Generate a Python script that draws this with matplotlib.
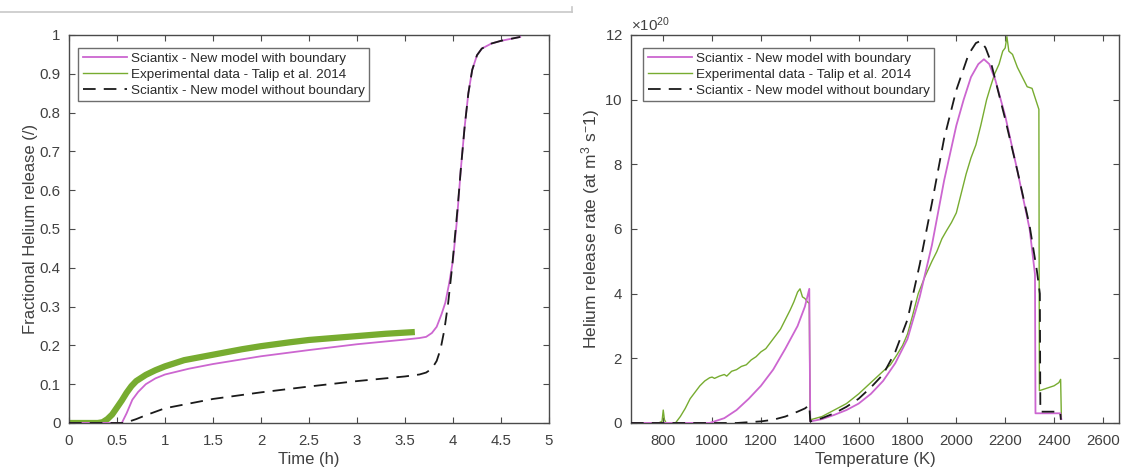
import matplotlib
matplotlib.use("Agg")
import matplotlib.pyplot as plt
from matplotlib.ticker import FormatStrFormatter, MultipleLocator, ScalarFormatter
from matplotlib.lines import Line2D

plt.rcParams['font.family'] = ['Liberation Sans', 'DejaVu Sans']
plt.rcParams['mathtext.default'] = 'regular'

# ---------------- Left panel data: fractional release vs time ----------------
t_with = [0, 0.55, 0.6, 0.66, 0.72, 0.8, 0.9, 1.0, 1.25, 1.5, 2.0, 2.5, 3.0, 3.5, 3.65,
          3.72, 3.78, 3.83, 3.88, 3.92, 3.96, 4.0, 4.04, 4.08, 4.12, 4.16, 4.2, 4.25,
          4.3, 4.4, 4.5, 4.6, 4.7]
frac_with = [0, 0, 0.025, 0.06, 0.08, 0.1, 0.115, 0.125, 0.14, 0.152, 0.172, 0.188,
             0.203, 0.215, 0.219, 0.222, 0.232, 0.248, 0.28, 0.31, 0.36, 0.42, 0.52,
             0.65, 0.76, 0.85, 0.91, 0.948, 0.965, 0.978, 0.985, 0.99, 0.995]

t_without = [0, 0.58, 0.7, 0.8, 1.0, 1.5, 2.0, 2.5, 3.0, 3.5, 3.65, 3.72, 3.78, 3.83,
             3.87, 3.91, 3.95, 3.99, 4.02, 4.05, 4.08, 4.12, 4.16, 4.2, 4.25, 4.3, 4.4,
             4.5, 4.6, 4.7]
frac_without = [0, 0, 0.01, 0.02, 0.038, 0.062, 0.079, 0.094, 0.108, 0.12, 0.125, 0.13,
                0.14, 0.16, 0.19, 0.24, 0.31, 0.4, 0.48, 0.56, 0.65, 0.76, 0.85, 0.91,
                0.948, 0.965, 0.978, 0.985, 0.99, 0.995]

t_exp = [0, 0.3, 0.35, 0.4, 0.45, 0.5, 0.55, 0.6, 0.65, 0.7, 0.8, 0.9, 1.0, 1.2, 1.5,
         1.8, 2.0, 2.3, 2.5, 2.8, 3.0, 3.3, 3.57]
frac_exp = [0, 0, 0.002, 0.01, 0.022, 0.04, 0.058, 0.078, 0.095, 0.108, 0.124, 0.136,
            0.146, 0.162, 0.176, 0.19, 0.198, 0.208, 0.214, 0.22, 0.224, 0.23, 0.234]

# ---------------- Right panel data: release rate vs temperature (x1e20) ----------------
T_with = [668, 990, 1050, 1100, 1150, 1200, 1250, 1300, 1350, 1380, 1398, 1400, 1402,
          1450, 1500, 1550, 1600, 1650, 1700, 1750, 1800, 1850, 1900, 1950, 2000, 2030,
          2060, 2090, 2113, 2135, 2160, 2200, 2250, 2300, 2322, 2324, 2426, 2430]
rate_with = [0, 0, 0.15, 0.4, 0.75, 1.15, 1.65, 2.3, 3.0, 3.6, 4.15, 2.0, 0.05,
             0.12, 0.25, 0.4, 0.6, 0.9, 1.3, 1.85, 2.6, 3.9, 5.5, 7.5, 9.2, 10.0,
             10.7, 11.1, 11.25, 11.1, 10.6, 9.5, 7.8, 6.0, 4.6, 0.3, 0.3, 0.12]

T_without = [668, 1100, 1200, 1250, 1300, 1350, 1380, 1398, 1400, 1402, 1450, 1500,
             1550, 1600, 1650, 1700, 1750, 1800, 1850, 1900, 1950, 2000, 2050, 2080,
             2100, 2120, 2140, 2160, 2200, 2250, 2300, 2330, 2342, 2344, 2425, 2428]
rate_without = [0, 0, 0.05, 0.1, 0.2, 0.35, 0.45, 0.55, 0.3, 0.05, 0.15, 0.3,
                0.5, 0.75, 1.1, 1.5, 2.2, 3.2, 4.9, 6.8, 8.8, 10.3, 11.4, 11.75,
                11.82, 11.6, 11.2, 10.6, 9.4, 7.8, 6.1, 4.7, 4.0, 0.35, 0.35, 0.1]

T_exp = [668, 780, 795, 800, 805, 812, 850, 870, 890, 910, 930, 950, 970, 990, 1000,
         1010, 1030, 1050, 1060, 1080, 1100, 1120, 1140, 1160, 1180, 1200, 1220, 1240,
         1260, 1280, 1300, 1320, 1335, 1350, 1360, 1370, 1380, 1390, 1398, 1401, 1403,
         1450, 1500, 1550, 1600, 1650, 1700, 1730, 1756, 1780, 1800, 1820, 1844, 1870,
         1900, 1920, 1941, 1960, 1980, 2000, 2020, 2040, 2060, 2080, 2100, 2124, 2140,
         2157, 2175, 2190, 2200, 2207, 2215, 2230, 2250, 2270, 2290, 2310, 2325, 2338,
         2340, 2360, 2380, 2400, 2420, 2427, 2430]
rate_exp = [0, 0, 0.05, 0.4, 0.1, 0, 0, 0.2, 0.45, 0.75, 0.95, 1.15, 1.3, 1.4, 1.42,
            1.38, 1.45, 1.5, 1.45, 1.6, 1.65, 1.75, 1.8, 1.95, 2.05, 2.2, 2.3, 2.5,
            2.7, 2.9, 3.2, 3.5, 3.75, 4.05, 4.15, 3.9, 3.85, 3.75, 3.7, 0.3, 0.1,
            0.2, 0.4, 0.6, 0.9, 1.25, 1.6, 1.8, 2.1, 2.4, 2.75, 3.3, 4.0, 4.5,
            5.0, 5.3, 5.7, 5.95, 6.2, 6.5, 7.1, 7.7, 8.2, 8.6, 9.2, 10.0, 10.4,
            10.8, 11.1, 11.5, 11.6, 11.95, 11.5, 11.4, 11.0, 10.7, 10.4, 10.35, 10.0, 9.7,
            1.0, 1.05, 1.1, 1.15, 1.25, 1.35, 0.2]

labels = ['Sciantix - New model with boundary',
          'Experimental data - Talip et al. 2014',
          'Sciantix - New model without boundary']

C_MAG = '#cc66d0'
C_GRN = '#77ac30'
C_BLK = '#1a1a1a'
C_AX = '#4a4a4a'
C_TXT = '#404040'

fig = plt.figure(figsize=(11.21, 4.70), dpi=100)

# separator artifact line at top
fig.add_artist(Line2D([0, 572 / 1121], [1 - 12 / 470, 1 - 12 / 470], color='#c8c8c8', lw=1.2,
                      transform=fig.transFigure))
fig.add_artist(Line2D([572 / 1121, 572 / 1121], [1 - 12 / 470, 1 - 7 / 470], color='#c8c8c8', lw=1.2,
                      transform=fig.transFigure))

axL = fig.add_axes([69 / 1121, 47 / 470, 480 / 1121, 388 / 470])
axR = fig.add_axes([631 / 1121, 47 / 470, 488 / 1121, 388 / 470])

def style(ax):
    for s in ax.spines.values():
        s.set_color(C_AX)
        s.set_linewidth(1.0)
    ax.tick_params(direction='in', length=4, width=0.8, top=True, right=True,
                   colors=C_AX, labelcolor=C_TXT, labelsize=10.8)
    ax.tick_params(axis='x', pad=8)
    ax.tick_params(axis='y', pad=6)

DASH = (0, (7, 4.5))

# Left
lw_line = 1.3
axL.plot(t_with, frac_with, color=C_MAG, lw=lw_line, label=labels[0], zorder=3)
axL.plot(t_exp, frac_exp, color=C_GRN, lw=4.5, label=labels[1], zorder=2)
axL.plot(t_without, frac_without, color=C_BLK, lw=lw_line, ls=DASH, label=labels[2], zorder=4)
axL.set_xlim(0, 5)
axL.set_ylim(0, 1)
axL.xaxis.set_major_locator(MultipleLocator(0.5))
axL.yaxis.set_major_locator(MultipleLocator(0.1))
axL.xaxis.set_major_formatter(FormatStrFormatter('%g'))
axL.yaxis.set_major_formatter(FormatStrFormatter('%g'))
axL.set_xlabel('Time (h)', fontsize=12, color=C_TXT, labelpad=3)
axL.set_ylabel('Fractional Helium release (/)', fontsize=12, color=C_TXT, labelpad=1)
style(axL)

# Right
scale = 1e20
axR.plot(T_with, [v * scale for v in rate_with], color=C_MAG, lw=lw_line, label=labels[0], zorder=3)
axR.plot(T_exp, [v * scale for v in rate_exp], color=C_GRN, lw=1.0, label=labels[1], zorder=2)
axR.plot(T_without, [v * scale for v in rate_without], color=C_BLK, lw=lw_line, ls=DASH,
         label=labels[2], zorder=4)
axR.set_xlim(668, 2666)
axR.set_ylim(0, 12e20)
axR.xaxis.set_major_locator(MultipleLocator(200))
axR.yaxis.set_major_locator(MultipleLocator(2e20))
fmt = ScalarFormatter(useMathText=True)
fmt.set_powerlimits((20, 20))
axR.yaxis.set_major_formatter(fmt)
axR.set_xlabel('Temperature (K)', fontsize=12, color=C_TXT, labelpad=3)
axR.set_ylabel('Helium release rate (at m$^{3}$ s$^{-}$1)', fontsize=12.5, color=C_TXT, labelpad=2)
style(axR)
axR.yaxis.get_offset_text().set_color(C_TXT)
axR.yaxis.get_offset_text().set_fontsize(10.8)

for ax, anchor in ((axL, (9 / 480, 1 - 13 / 388)), (axR, (12 / 488, 1 - 13 / 388))):
    leg = ax.legend(loc='upper left', bbox_to_anchor=anchor, borderaxespad=0,
                    fontsize=9.7, frameon=True, fancybox=False, handlelength=3.3,
                    handletextpad=0.25, labelspacing=0.25, borderpad=0.35)
    leg.get_frame().set_edgecolor(C_AX)
    leg.get_frame().set_linewidth(1.0)
    for txt in leg.get_texts():
        txt.set_color('#2a2a2a')
    leg.get_lines()[1].set_linewidth(1.0)

fig.savefig('out.png', dpi=100)
